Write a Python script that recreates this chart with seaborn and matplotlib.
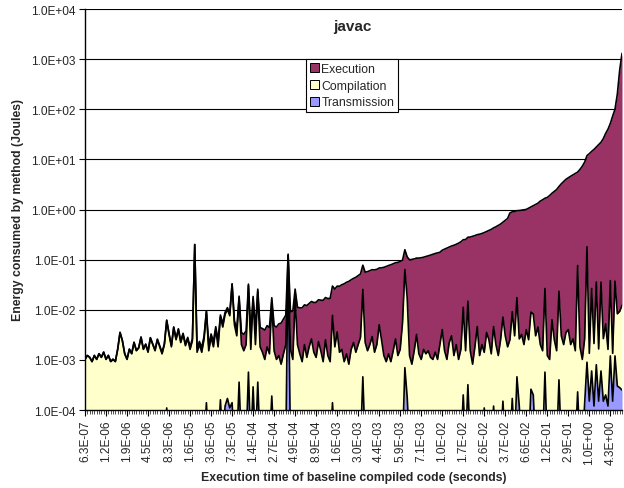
import numpy as np
import pandas as pd
import matplotlib
matplotlib.use("Agg")
import matplotlib.pyplot as plt
from matplotlib.patches import Patch
from matplotlib.ticker import FuncFormatter, NullLocator
import seaborn as sns

# ---------------- data ----------------
tick_labels = ["6.3E-07", "1.2E-06", "1.9E-06", "4.5E-06", "8.3E-06", "1.6E-05",
               "3.6E-05", "7.3E-05", "1.4E-04", "2.7E-04", "4.9E-04", "8.9E-04",
               "1.6E-03", "3.0E-03", "4.4E-03", "5.9E-03", "7.1E-03", "1.0E-02",
               "1.7E-02", "2.6E-02", "3.7E-02", "6.6E-02", "1.2E-01", "2.9E-01",
               "1.0E+00", "4.3E+00"]

execution = [
    8e-6, 8e-6, 9e-6, 1.0e-5, 1.0e-5, 1.1e-5, 1.2e-5, 1.3e-5, 1.4e-5, 1.5e-5,
    1.6e-5, 1.7e-5, 1.8e-5, 1.9e-5, 2.0e-5, 2.1e-5, 2.2e-5, 2.3e-5, 2.4e-5, 2.6e-5,
    2.9e-5, 3.2e-5, 3.6e-5, 4.0e-5, 4.4e-5, 4.8e-5, 5.3e-5, 5.8e-5, 6.3e-5, 6.8e-5,
    7.3e-5, 7.9e-5, 8.5e-5, 9.1e-5, 9.7e-5, 1.03e-4, 1.1e-4, 1.2e-4, 1.3e-4, 1.4e-4,
    1.5e-4, 1.6e-4, 1.7e-4, 1.8e-4, 1.95e-4, 2.1e-4, 2.3e-4, 2.5e-4, 2.8e-4, 3.1e-4,
    3.4e-4, 3.7e-4, 4.0e-4, 4.3e-4, 4.7e-4, 5.2e-4, 5.8e-4, 6.4e-4, 7.0e-4, 7.6e-4,
    8.0e-4, 8.5e-4, 9.0e-4, 9.5e-4, 1.0e-3, 1.1e-3, 1.3e-3, 1.5e-3, 1.7e-3, 1.8e-3,
    1.9e-3, 2.0e-3, 2.1e-3, 2.3e-3, 2.4e-3, 2.6e-3, 2.8e-3, 2.9e-3, 3.0e-3, 3.1e-3,
    3.2e-3, 3.3e-3, 3.5e-3, 4.0e-3, 4.6e-3, 5.2e-3, 5.8e-3, 6.5e-3, 7.5e-3, 8.3e-3,
    8.8e-3, 9.2e-3, 9.6e-3, 1.0e-2, 1.05e-2, 1.1e-2, 1.15e-2, 1.2e-2, 1.25e-2, 1.3e-2,
    1.35e-2, 1.4e-2, 1.45e-2, 1.5e-2, 1.55e-2, 1.6e-2, 2.2e-2, 2.4e-2, 2.6e-2, 2.8e-2,
    3.0e-2, 3.2e-2, 3.4e-2, 3.6e-2, 3.8e-2, 4.0e-2, 4.3e-2, 4.6e-2, 4.9e-2, 5.2e-2,
    5.4e-2, 5.6e-2, 5.8e-2, 6.0e-2, 6.1e-2, 6.2e-2, 6.3e-2, 6.6e-2, 6.9e-2, 7.2e-2,
    7.5e-2, 7.8e-2, 8.1e-2, 8.4e-2, 8.7e-2, 9.0e-2, 9.2e-2, 9.4e-2, 9.6e-2, 9.8e-2,
    0.100, 0.102, 0.104, 0.106, 0.108, 0.110, 0.114, 0.118, 0.122, 0.127,
    0.131, 0.135, 0.138, 0.150, 0.160, 0.168, 0.176, 0.184, 0.192, 0.200,
    0.212, 0.225, 0.238, 0.250, 0.265, 0.280, 0.290, 0.300, 0.310, 0.320,
    0.330, 0.345, 0.360, 0.380, 0.400, 0.425, 0.450, 0.480, 0.510, 0.550,
    0.600, 0.660, 0.850, 0.890, 0.910, 0.930, 0.950, 0.965, 0.980, 1.00,
    1.06, 1.12, 1.18, 1.25, 1.33, 1.47, 1.56, 1.65, 1.74, 1.90,
    2.10, 2.30, 2.50, 2.85, 3.25, 3.60, 4.00, 4.30, 4.60, 4.90,
    5.20, 5.50, 6.30, 7.30, 8.80, 11.7, 13.0, 14.4, 15.8, 17.6,
    19.6, 21.9, 26.0, 33.0, 40.0, 52.0, 73.0, 100.0, 200.0, 600.0,
    1300.0]

compilation = [
    1.0e-3, 1.2e-3, 1.1e-3, 0.9e-3, 1.2e-3, 1.0e-3, 1.3e-3, 1.1e-3, 1.4e-3, 1.0e-3,
    1.2e-3, 0.9e-3, 1.0e-3, 0.9e-3, 1.6e-3, 3.5e-3, 2.4e-3, 1.3e-3, 1.0e-3, 1.6e-3,
    1.3e-3, 2.2e-3, 1.5e-3, 1.7e-3, 2.8e-3, 1.6e-3, 2.0e-3, 1.4e-3, 2.7e-3, 2.0e-3,
    1.5e-3, 2.5e-3, 1.8e-3, 1.3e-3, 2.0e-3, 6.0e-3, 3.2e-3, 1.8e-3, 4.4e-3, 2.5e-3,
    4.0e-3, 2.2e-3, 3.2e-3, 1.9e-3, 2.6e-3, 1.6e-3, 2.4e-3, 0.20, 1.4e-3, 2.0e-3,
    1.4e-3, 2.6e-3, 9.0e-3, 1.5e-3, 2.8e-3, 1.8e-3, 4.0e-3, 1.8e-3, 7.0e-3, 4.5e-3,
    8.0e-3, 1.0e-2, 7.5e-3, 3.2e-2, 5.0e-3, 3.0e-3, 1.7e-2, 2.0e-3, 1.5e-3, 2.0e-3,
    3.0e-2, 1.6e-3, 1.6e-2, 2.0e-3, 2.3e-2, 1.8e-3, 1.4e-3, 1.0e-3, 1.8e-3, 1.3e-3,
    1.4e-2, 1.5e-3, 1.0e-3, 1.2e-3, 0.8e-3, 1.3e-3, 2.0e-3, 2.0e-3, 1.6e-3, 1.0e-3,
    1.7e-2, 2.0e-3, 1.3e-3, 0.9e-3, 2.0e-3, 1.1e-3, 1.8e-3, 2.6e-3, 1.4e-3, 1.1e-3,
    2.3e-3, 1.5e-3, 0.9e-3, 2.5e-3, 1.2e-3, 0.9e-3, 7.6e-3, 1.8e-3, 3.6e-3, 1.4e-3,
    1.6e-3, 0.9e-3, 1.3e-3, 0.8e-3, 1.6e-3, 2.2e-3, 1.4e-3, 2.0e-3, 2.8e-3, 2.5e-2,
    2.2e-3, 1.5e-3, 2.0e-3, 2.9e-3, 1.4e-3, 2.0e-3, 5.0e-3, 2.5e-3, 1.2e-3, 0.9e-3,
    1.3e-3, 0.9e-3, 1.5e-3, 2.6e-3, 1.2e-3, 1.6e-3, 5.5e-3, 6.3e-2, 1.7e-2, 1.2e-3,
    0.8e-3, 1.5e-3, 3.2e-3, 1.3e-3, 1.0e-3, 1.6e-3, 1.3e-3, 1.5e-3, 1.1e-3, 1.0e-3,
    1.4e-3, 1.0e-3, 2.0e-3, 4.0e-3, 1.5e-3, 1.0e-3, 2.2e-3, 3.0e-3, 1.2e-3, 2.0e-3,
    1.0e-3, 1.6e-3, 1.1e-2, 1.5e-3, 1.45e-2, 1.5e-3, 0.8e-3, 1.8e-3, 4.6e-3, 1.2e-3,
    2.0e-3, 1.3e-3, 3.5e-3, 2.5e-3, 1.3e-3, 4.5e-3, 2.0e-3, 1.2e-3, 2.5e-3, 7.0e-3,
    3.0e-3, 1.8e-3, 2.5e-3, 9.0e-3, 3.0e-3, 1.7e-2, 2.5e-3, 3.2e-3, 2.0e-3, 4.0e-3,
    2.5e-3, 8.7e-3, 8.0e-3, 3.0e-3, 4.5e-3, 2.0e-3, 1.5e-3, 2.6e-2, 1.2e-3, 1.0e-3,
    6.3e-3, 2.5e-3, 1.5e-3, 2.3e-2, 3.0e-3, 2.0e-3, 3.5e-3, 4.0e-3, 2.0e-3, 2.6e-3,
    1.5e-3, 7.6e-2, 1.8e-3, 1.0e-3, 2.5e-3, 1.8e-1, 1.2e-3, 2.6e-2, 2.0e-3, 3.5e-2,
    1.5e-3, 3.5e-2, 2.5e-3, 5.0e-3, 1.5e-3, 3.7e-2, 1.2e-3, 3.6e-2, 8.0e-3, 9.0e-3,
    1.2e-2]

transmission = [
    2e-5, 2e-5, 2e-5, 2e-5, 2e-5, 2e-5, 2e-5, 2e-5, 2e-5, 2e-5,
    2e-5, 2e-5, 2e-5, 2e-5, 2e-5, 2e-5, 2e-5, 2e-5, 2e-5, 2e-5,
    2e-5, 2e-5, 2e-5, 2e-5, 2e-5, 2e-5, 2e-5, 2e-5, 2e-5, 2e-5,
    2e-5, 2e-5, 2e-5, 2e-5, 2e-5, 1.1e-4, 2e-5, 2e-5, 2e-5, 2e-5,
    2e-5, 2e-5, 2e-5, 2e-5, 2e-5, 2e-5, 2e-5, 2e-5, 2e-5, 2e-5,
    2e-5, 2e-5, 1.4e-4, 2e-5, 2e-5, 2e-5, 2e-5, 2e-5, 1.6e-4, 2e-5,
    1.2e-4, 1.7e-4, 1.1e-4, 1.4e-4, 2e-5, 2e-5, 3.6e-4, 2e-5, 2e-5, 2e-5,
    5.7e-4, 2e-5, 2.9e-4, 2e-5, 3.6e-4, 2e-5, 2e-5, 2e-5, 2e-5, 2e-5,
    1.9e-4, 2e-5, 2e-5, 2e-5, 2e-5, 2e-5, 2e-5, 0.12, 2e-5, 2e-5,
    2e-5, 2e-5, 2e-5, 2e-5, 2e-5, 2e-5, 2e-5, 2e-5, 2e-5, 2e-5,
    2e-5, 2e-5, 2e-5, 2e-5, 2e-5, 2e-5, 1.4e-4, 2e-5, 2e-5, 2e-5,
    2e-5, 2e-5, 2e-5, 2e-5, 2e-5, 2e-5, 2e-5, 2e-5, 2e-5, 4.6e-4,
    2e-5, 2e-5, 2e-5, 2e-5, 2e-5, 2e-5, 2e-5, 2e-5, 2e-5, 2e-5,
    2e-5, 2e-5, 2e-5, 2e-5, 2e-5, 2e-5, 2e-5, 7e-4, 1.8e-4, 2e-5,
    2e-5, 2e-5, 2e-5, 2e-5, 2e-5, 2e-5, 2e-5, 2e-5, 2e-5, 2e-5,
    2e-5, 2e-5, 2e-5, 2e-5, 2e-5, 2e-5, 2e-5, 2e-5, 2e-5, 2e-5,
    2e-5, 2e-5, 2e-4, 2e-5, 3.2e-4, 2e-5, 2e-5, 2e-5, 2e-5, 2e-5,
    2e-5, 1.1e-4, 2e-5, 2e-5, 2e-5, 1.2e-4, 2e-5, 2e-5, 2e-5, 1.5e-4,
    2e-5, 2e-5, 2e-5, 1.7e-4, 2e-5, 4.6e-4, 1.2e-4, 2e-5, 2e-5, 2e-5,
    2e-5, 2.6e-4, 2.0e-4, 2e-5, 2e-5, 2e-5, 2e-5, 5.7e-4, 2e-5, 2e-5,
    2e-5, 2e-5, 2e-5, 4e-4, 2e-5, 2e-5, 2e-5, 2e-5, 2e-5, 2e-5,
    2e-5, 2.3e-4, 2e-5, 2e-5, 1.3e-4, 9e-4, 1.5e-4, 6e-4, 1.2e-4, 8e-4,
    1.5e-4, 6e-4, 1.5e-4, 2e-4, 1.2e-4, 1.2e-3, 1.5e-4, 1.2e-3, 3e-4, 2.8e-4,
    2.5e-4]

series_names = ["Execution", "Compilation", "Transmission"]
series_colors = ["#993366", "#FFFFCC", "#9999FF"]

# ---------------- figure ----------------
sns.set_style("white")
plt.rcParams["font.family"] = ["Liberation Sans", "DejaVu Sans"]

W, H = 624, 489
fig = plt.figure(figsize=(W / 100, H / 100), dpi=100)
L, R, T, B = 85, 622, 10, 411
ax = fig.add_axes([L / W, 1 - B / H, (R - L) / W, (B - T) / H])

x = np.arange(len(execution))
t = np.array(transmission)
c = np.array(compilation)
e = np.array(execution)
tc = t + c
tot = tc + e

ax.set_yscale("log")
ax.fill_between(x, 1e-8, t, color=series_colors[2], lw=0, zorder=2)
ax.fill_between(x, t, tc, color=series_colors[1], lw=0, zorder=2)
ax.fill_between(x, tc, tot, color=series_colors[0], lw=0, zorder=2)

df = pd.DataFrame({"idx": x, "Transmission": t, "Compilation": tc, "Execution": tot})
for col in ["Transmission", "Compilation", "Execution"]:
    sns.lineplot(data=df, x="idx", y=col, color="black", lw=1.2, ax=ax,
                 zorder=3, legend=False)

ax.set_xlim(0, len(execution) - 1)
ax.set_ylim(1e-4, 1e4)

ax.set_yticks([10.0 ** k for k in range(-4, 5)])
ax.yaxis.set_minor_locator(NullLocator())
ax.yaxis.set_major_formatter(FuncFormatter(lambda v, p: f"{v:.1E}"))
ax.yaxis.grid(True, color="black", lw=0.8, zorder=0)
ax.set_axisbelow(True)

ax.set_xticks(np.arange(0, len(execution), 9)[:len(tick_labels)])
ax.set_xticklabels(tick_labels, rotation=90)
ax.set_xticks(x, minor=True)

ax.tick_params(axis="y", which="major", direction="out", length=4, width=0.8,
               color="black", labelsize=8.6, pad=3, left=True)
ax.tick_params(axis="x", which="major", direction="out", length=4, width=0.8,
               color="black", labelsize=8.6, pad=3, bottom=True)
ax.tick_params(axis="x", which="minor", direction="out", length=3, width=0.6,
               color="#333333", bottom=True)

ax.set_xlabel("")
ax.set_ylabel("")
for s in ["top", "right"]:
    ax.spines[s].set_visible(False)
for s in ["left", "bottom"]:
    ax.spines[s].set_color("black")
    ax.spines[s].set_linewidth(1.0)
    ax.spines[s].set_zorder(4)

fig.text(353.5 / W, 1 - 478 / H, "Execution time of baseline compiled code (seconds)",
         ha="center", va="center", fontsize=8.8, fontweight="bold")
fig.text(18 / W, 1 - 210 / H, "Energy consumed by method (Joules)", rotation=90,
         ha="center", va="center", fontsize=8.8, fontweight="bold")
fig.text(352 / W, 1 - 27 / H, "javac", ha="center", va="center",
         fontsize=11, fontweight="bold")

handles = [Patch(facecolor=col, edgecolor="black", lw=0.7) for col in series_colors]
leg = fig.legend(handles, series_names, loc="upper left",
                 bbox_to_anchor=(306 / W, 1 - 60 / H), bbox_transform=fig.transFigure,
                 fontsize=8.8, frameon=True, fancybox=False, framealpha=1,
                 edgecolor="black", borderpad=0.3, handlelength=0.75,
                 handleheight=0.75, handletextpad=0.2, labelspacing=0.4,
                 borderaxespad=0)
leg.get_frame().set_linewidth(0.8)

fig.savefig("out.png", dpi=100)
